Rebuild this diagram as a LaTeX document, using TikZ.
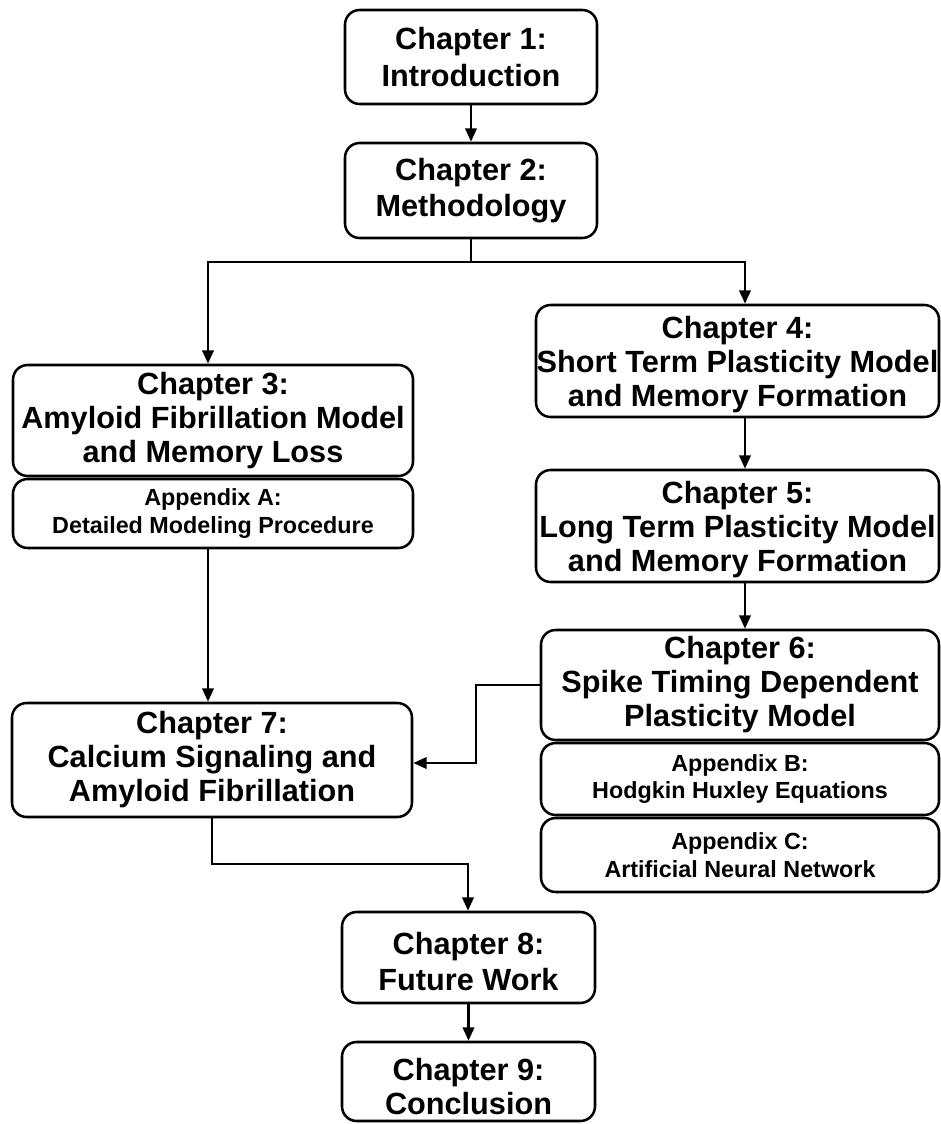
\documentclass[tikz,border=0pt]{standalone}
\usepackage{fontspec}
\setmainfont{Liberation Sans}
\usetikzlibrary{fit,arrows.meta}
\tikzset{
  box/.style={draw, line width=1.9pt, rounded corners=11pt, inner sep=0pt},
  ttwo/.style={inner sep=0pt, align=center, font=\fontsize{23}{27.5}\selectfont\bfseries},
  tthree/.style={inner sep=0pt, align=center, font=\fontsize{23}{25.5}\selectfont\bfseries},
  tap/.style={inner sep=0pt, align=center, font=\fontsize{17.5}{20.5}\selectfont\bfseries},
  conn/.style={line width=1.9pt},
  arr/.style={conn, -{Triangle[length=10pt,width=8.5pt]}},
}
\begin{document}
\begin{tikzpicture}[x=0.75pt,y=-0.75pt]
\useasboundingbox (0,0) rectangle (941,1124);
\node[box, fit={(345,10)(597,104)}] (ch1) {};
\node[box, fit={(345,143)(597,238)}] (ch2) {};
\node[box, fit={(13,365)(413,476)}] (ch3) {};
\node[box, fit={(13,479)(413,548)}] (apA) {};
\node[box, fit={(536,305)(939,417)}] (ch4) {};
\node[box, fit={(536,470)(939,582)}] (ch5) {};
\node[box, fit={(541,630)(939,740)}] (ch6) {};
\node[box, fit={(541,743)(939,815)}] (apB) {};
\node[box, fit={(541,818)(939,892)}] (apC) {};
\node[box, fit={(12,703)(412,817)}] (ch7) {};
\node[box, fit={(342,912)(595,1003)}] (ch8) {};
\node[box, fit={(342,1042)(595,1121)}] (ch9) {};

\node[ttwo] (t1) at (ch1.center) {Chapter 1:\\Introduction};
\node[ttwo] (t2) at (ch2.center) {Chapter 2:\\Methodology};
\node[tthree] (t3) at (ch3.center) {Chapter 3:\\Amyloid Fibrillation Model\\and Memory Loss};
\node[tap] (tA) at (apA.center) {Appendix A:\\Detailed Modeling Procedure};
\node[tthree] (t4) at ([yshift=-3pt]ch4.center) {Chapter 4:\\Short Term Plasticity Model\\and Memory Formation};
\node[tthree] (t5) at ([yshift=-3pt]ch5.center) {Chapter 5:\\Long Term Plasticity Model\\and Memory Formation};
\node[tthree] (t6) at (ch6.center) {Chapter 6:\\Spike Timing Dependent\\Plasticity Model};
\node[tap] (tB) at (apB.center) {Appendix B:\\Hodgkin Huxley Equations};
\node[tap] (tC) at (apC.center) {Appendix C:\\Artificial Neural Network};
\node[tthree] (t7) at (ch7.center) {Chapter 7:\\Calcium Signaling and\\Amyloid Fibrillation};
\node[ttwo] (t8) at ([yshift=-3pt]ch8.center) {Chapter 8:\\Future Work};
\node[tthree] (t9) at ([yshift=-4pt]ch9.center) {Chapter 9:\\Conclusion};

\coordinate (b) at (471,262);
\coordinate (bl) at (208,262);
\coordinate (br) at (745,262);
\coordinate (k1) at (476,685);
\coordinate (k2) at (476,763);
\coordinate (m1) at (212,864);
\coordinate (m2) at (468,864);

\draw[arr] (ch1) -- (ch2);
\draw[arr] (ch2.south) -- (b) -- (bl) -- (bl |- ch3.north);
\draw[arr] (b) -- (br) -- (br |- ch4.north);
\draw[arr] (ch4.south -| br) -- (ch5.north -| br);
\draw[arr] (ch5.south -| br) -- (ch6.north -| br);
\draw[arr] (apA.south -| bl) -- (ch7.north -| bl);
\draw[arr] (ch6.west |- k1) -- (k1) -- (k2) -- (ch7.east |- k2);
\draw[arr] (ch7.south -| m1) -- (m1) -- (m2) -- (ch8.north -| m2);
\draw[arr] (ch8) -- (ch9);
\end{tikzpicture}
\end{document}
